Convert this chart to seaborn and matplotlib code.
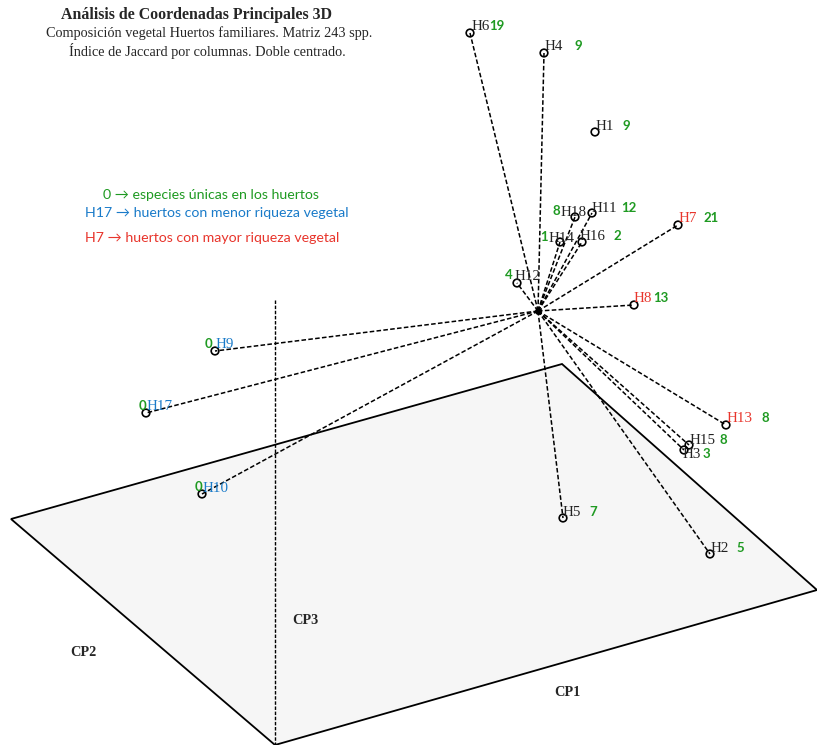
import matplotlib
matplotlib.use("Agg")
import matplotlib.pyplot as plt
import seaborn as sns
import pandas as pd
from matplotlib.patches import Polygon

sns.set_theme(style="white")

# Projected ordination scores (2D projection of the 3 principal coordinates)
huertos = ["H6", "H4", "H1", "H18", "H11", "H14", "H16", "H7", "H12", "H8",
           "H9", "H17", "H10", "H13", "H15", "H3", "H5", "H2"]
proj_x = [470, 544, 595, 575, 592, 560, 582, 678, 517, 634,
          215, 146, 202, 726, 689, 684, 563, 710]
proj_y = [33, 53, 132, 217, 213, 242, 242, 225, 283, 305,
          351, 413, 494, 425, 445, 450, 518, 554]
# number of species found only in that garden
especies_unicas = [19, 9, 9, 8, 12, 1, 2, 21, 4, 13, 0, 0, 0, 8, 8, 3, 7, 5]
# richness class: "media", "menor", "mayor"
riqueza = ["media", "media", "media", "media", "media", "media", "media", "mayor",
           "media", "mayor", "menor", "menor", "menor", "mayor", "media", "media",
           "media", "media"]
# whether the garden is joined to the centroid by a vector
con_vector = [True, True, False, True, True, True, True, True, True, True,
              True, True, True, True, True, True, True, True]

centro = (538, 311)
plano_x = [11, 562, 817, 275]
plano_y = [519, 364, 590, 745]
eje_cp3_x = [275, 275]
eje_cp3_y = [300, 745]

VERDE = "#1f9a22"
AZUL = "#1a7bc9"
ROJO = "#e8352c"
col_riqueza = {"media": "#222222", "menor": AZUL, "mayor": ROJO}

# label layout: (label dx, label dy, side of number, number dx)
layout = {
    "H6": (2, -6, "r", 19), "H4": (1, -6, "r", 31), "H1": (1, -6, "r", 28),
    "H18": (-14, -5, "l", -1), "H11": (0, -4, "r", 29), "H14": (-11, -4, "l", -1),
    "H16": (-2, -5, "r", 31), "H7": (1, -6, "r", 25), "H12": (-2, -7, "l", -2),
    "H8": (0, -6, "r", 19), "H9": (1, -6, "l", -4), "H17": (1, -6, "l", -1),
    "H10": (1, -6, "l", -1), "H13": (1, -6, "r", 36), "H15": (1, -5, "r", 31),
    "H3": (-1, 5, "r", 19), "H5": (0, -6, "r", 26), "H2": (1, -6, "r", 26),
}

df = pd.DataFrame({"huerto": huertos, "x": proj_x, "y": proj_y,
                   "unicas": especies_unicas, "riqueza": riqueza,
                   "vector": con_vector})

fig = plt.figure(figsize=(8.17, 7.45), dpi=100)
ax = fig.add_axes([0, 0, 1, 1])
ax.set_xlim(0, 817)
ax.set_ylim(745, 0)
ax.axis("off")

# CP1-CP2 plane
ax.add_patch(Polygon(list(zip(plano_x, plano_y)), closed=True,
                     facecolor="#f6f6f6", edgecolor="black", lw=1.3, zorder=1))
# CP3 axis
ax.plot(eje_cp3_x, eje_cp3_y, color="black", lw=1.0,
        linestyle=(0, (2.5, 1.2)), zorder=2)

# rays from the centroid to each garden
for xi, yi, v in zip(df["x"], df["y"], df["vector"]):
    if v:
        ax.plot([centro[0], xi], [centro[1], yi], color="black", lw=1.1,
                linestyle=(0, (3, 1.5)), zorder=3)
ax.plot([centro[0]], [centro[1]], "o", color="black", ms=4, zorder=4)

sns.scatterplot(data=df, x="x", y="y", ax=ax, s=30, marker="o",
                facecolor="none", edgecolor="black", linewidth=1.2,
                legend=False, zorder=5)

serif = "Liberation Serif"
sans = ["Lato", "DejaVu Sans"]

for _, r in df.iterrows():
    ldx, ldy, side, ndx = layout[r["huerto"]]
    lx, ly = r["x"] + ldx, r["y"] + ldy
    ax.text(lx, ly, r["huerto"], family=serif, fontsize=10.8,
            color=col_riqueza[r["riqueza"]], ha="left", va="center", zorder=6)
    if side == "r":
        ax.text(r["x"] + ndx, ly - 0.5, str(r["unicas"]), family=sans,
                fontweight="bold", fontsize=9.5, color=VERDE,
                ha="left", va="center", zorder=6)
    else:
        ax.text(lx + ndx, ly - 1, str(r["unicas"]), family=sans,
                fontweight="bold", fontsize=9.5, color=VERDE,
                ha="right", va="center", zorder=6)

# title block
ax.text(197, 15, "Análisis de Coordenadas Principales 3D", family=serif,
        fontweight="bold", fontsize=11.4, ha="center", va="center")
ax.text(209, 33, "Composición vegetal Huertos familiares. Matriz 243 spp.",
        family=serif, fontsize=10.3, ha="center", va="center")
ax.text(207, 51, "Índice de Jaccard por columnas. Doble centrado.",
        family=serif, fontsize=10.3, ha="center", va="center")

# key
ax.text(103, 195, "0 → especies únicas en los huertos", family=sans,
        fontsize=10.2, color=VERDE, ha="left", va="center")
ax.text(85, 213, "H17 → huertos con menor riqueza vegetal", family=sans,
        fontsize=10.2, color=AZUL, ha="left", va="center")
ax.text(85, 238, "H7 → huertos con mayor riqueza vegetal", family=sans,
        fontsize=10.2, color=ROJO, ha="left", va="center")

# axis names
ax.text(305, 621, "CP3", family=serif, fontweight="bold", fontsize=10.3,
        ha="center", va="center")
ax.text(83, 653, "CP2", family=serif, fontweight="bold", fontsize=10.3,
        ha="center", va="center")
ax.text(567, 692, "CP1", family=serif, fontweight="bold", fontsize=10.3,
        ha="center", va="center")

fig.savefig("out.png", dpi=100)
